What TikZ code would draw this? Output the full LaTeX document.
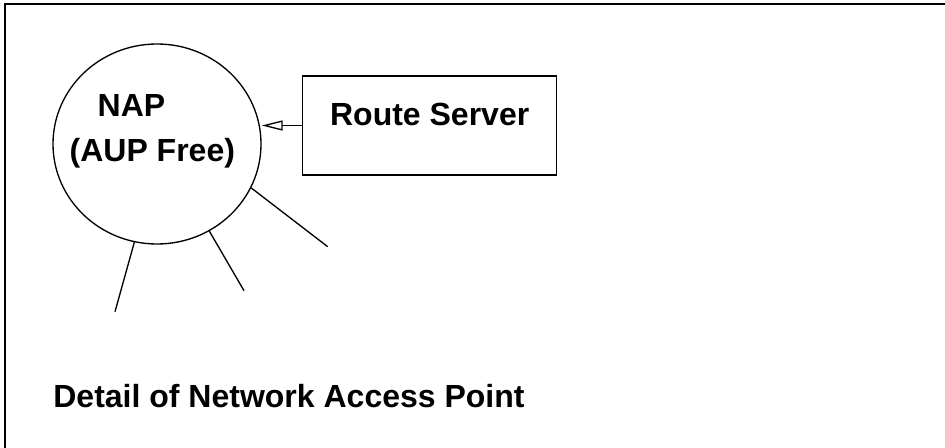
\documentclass[tikz,border=0pt]{standalone}
\usepackage{fontspec}
\setmainfont{Liberation Sans}
\usetikzlibrary{arrows.meta,shapes.geometric}

\begin{document}
\begin{tikzpicture}[x=0.75pt, y=-0.75pt, line width=1pt,
    every node/.style={font=\bfseries\fontsize{24}{28}\selectfont, inner sep=0pt}]
    \useasboundingbox (0,0) rectangle (945,448);

    % Frame (only top and left edges show)
    \draw[line width=1.5pt] (4.5,448) -- (4.5,4.5) -- (945,4.5);

    % NAP
    \node[draw, ellipse, minimum width=156pt, minimum height=150pt] (nap) at (157,144) {};
    \node[anchor=base west] (naptxt) at (97,117) {NAP};
    \node[anchor=base west] (auptxt) at (69,162) {(AUP Free)};

    % Route Server
    \node[draw, rectangle, minimum width=190.5pt, minimum height=74.25pt, text depth=16.5pt] (srv) at (429.7,125.5) {Route Server};

    % Arrow to the NAP
    \draw[-{Triangle[open, length=15.75pt, width=7.5pt]}] (srv.west) -- (srv.west -| nap.east);

    % Lines leaving the NAP
    \coordinate (l1) at (327.7,246.7);
    \coordinate (l2) at (244,290.7);
    \coordinate (l3) at (115,311.7);
    \draw (nap.-25) -- (l1);
    \draw (nap.-59) -- (l2);
    \draw (nap.-103) -- (l3);

    % Caption
    \node[anchor=base west] (cap) at (52.7,407) {Detail of Network Access Point};
\end{tikzpicture}
\end{document}
